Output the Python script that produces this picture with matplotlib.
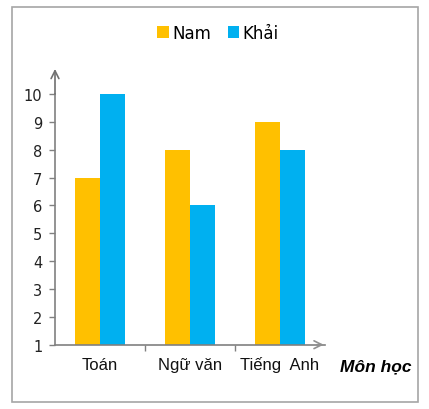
import matplotlib
matplotlib.use("Agg")
import matplotlib.pyplot as plt
from matplotlib.patches import Rectangle
import numpy as np

subjects = ["Toán", "Ngữ văn", "Tiếng  Anh"]
nam = [7, 8, 9]
khai = [10, 6, 8]
yticks = [1, 2, 3, 4, 5, 6, 7, 8, 9, 10]

W, H = 429, 410
fig = plt.figure(figsize=(W / 100, H / 100), dpi=100)

# outer frame
fig.patches.append(Rectangle((12 / W, 1 - 403 / H), 406 / W, 395 / H,
                             transform=fig.transFigure, fill=False,
                             edgecolor="#a6a6a6", lw=1.2))

ax = fig.add_axes([55 / W, 1 - 345.7 / H, 270 / W, (345.7 - 95) / H])
x = np.arange(len(subjects))
w = 0.28
ax.bar(x - w / 2, [v - 1 for v in nam], w, bottom=1, color="#FFC000", label="Nam")
ax.bar(x + w / 2, [v - 1 for v in khai], w, bottom=1, color="#00B0F0", label="Khải")

ax.set_xlim(-0.5, 2.5)
ax.set_ylim(1, 10)
ax.set_yticks(yticks)
ax.set_yticklabels([str(t) for t in yticks], fontsize=10.5, color="#222222")
ax.set_xticks([0.5, 1.5])
ax.set_xticklabels([])
ax.tick_params(axis="both", direction="out", length=4, color="#808080", width=1)
ax.tick_params(axis="y", pad=5)
for s in ("top", "right"):
    ax.spines[s].set_visible(False)
for s in ("left", "bottom"):
    ax.spines[s].set_color("#808080")
    ax.spines[s].set_linewidth(1.2)

# axis arrows
ax.annotate("", xy=(0, 1.1), xytext=(0, 1.0), xycoords="axes fraction",
            arrowprops=dict(arrowstyle="->", color="#707070", lw=1.2,
                            mutation_scale=14, shrinkA=0, shrinkB=0))
ax.annotate("", xy=(0.995, 0), xytext=(0.97, 0), xycoords="axes fraction",
            arrowprops=dict(arrowstyle="->", color="#909090", lw=1.2,
                            mutation_scale=14, shrinkA=0, shrinkB=0))

for i, s in enumerate(subjects):
    ax.text(i, -0.077, s, transform=ax.get_xaxis_transform(), ha="center", va="center",
            fontsize=12, family="Liberation Sans", color="#111111")
fig.text(376 / W, 1 - 367 / H, "Môn học", ha="center", va="center", fontsize=12.5,
         family="Liberation Sans", fontweight="bold", style="italic")

fig.legend(loc="center", bbox_to_anchor=(218 / W, 1 - 34 / H), ncol=2, frameon=False,
           fontsize=12, handlelength=0.7, handleheight=0.7, handletextpad=0.2,
           columnspacing=1.0)

fig.savefig("out.png", dpi=100)
